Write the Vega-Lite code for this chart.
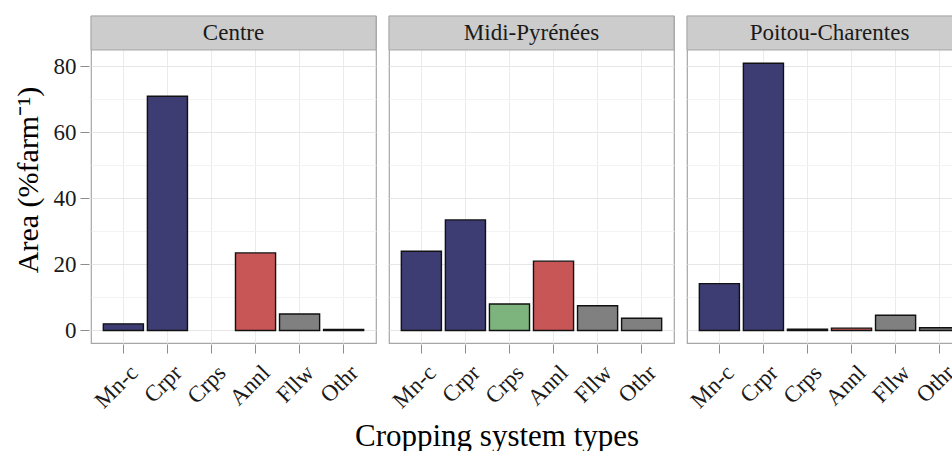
{
  "$schema": "https://vega.github.io/schema/vega-lite/v6.json",
  "padding": {"left": 13, "top": 14, "right": 0, "bottom": 0},
  "background": "white",
  "title": {
    "text": "Cropping system types",
    "orient": "bottom",
    "anchor": "middle",
    "dx": 4,
    "offset": 10,
    "font": "Liberation Serif",
    "fontSize": 31,
    "fontWeight": "normal",
    "color": "#000000"
  },
  "data": {"values": [
    {"region": "Centre", "type": "Mn-c", "area": 2.0},
    {"region": "Centre", "type": "Crpr", "area": 71.0},
    {"region": "Centre", "type": "Annl", "area": 23.5},
    {"region": "Centre", "type": "Fllw", "area": 5.0},
    {"region": "Centre", "type": "Othr", "area": 0.3},
    {"region": "Midi-Pyrénées", "type": "Mn-c", "area": 24.0},
    {"region": "Midi-Pyrénées", "type": "Crpr", "area": 33.5},
    {"region": "Midi-Pyrénées", "type": "Crps", "area": 8.0},
    {"region": "Midi-Pyrénées", "type": "Annl", "area": 21.0},
    {"region": "Midi-Pyrénées", "type": "Fllw", "area": 7.5},
    {"region": "Midi-Pyrénées", "type": "Othr", "area": 3.7},
    {"region": "Poitou-Charentes", "type": "Mn-c", "area": 14.2},
    {"region": "Poitou-Charentes", "type": "Crpr", "area": 81.0},
    {"region": "Poitou-Charentes", "type": "Crps", "area": 0.4},
    {"region": "Poitou-Charentes", "type": "Annl", "area": 0.7},
    {"region": "Poitou-Charentes", "type": "Fllw", "area": 4.6},
    {"region": "Poitou-Charentes", "type": "Othr", "area": 0.8}
  ]},
  "facet": {
    "column": {
      "field": "region",
      "type": "nominal",
      "sort": ["Centre", "Midi-Pyrénées", "Poitou-Charentes"],
      "header": {"labels": false, "title": null, "labelPadding": 0, "titlePadding": 0}
    }
  },
  "spacing": 9,
  "spec": {
    "width": 285,
    "height": 327,
    "layer": [
      {
        "mark": {"type": "bar", "stroke": "#111111", "strokeWidth": 1.4},
        "encoding": {
          "x": {
            "field": "type",
            "type": "nominal",
            "scale": {"domain": ["Mn-c", "Crpr", "Crps", "Annl", "Fllw", "Othr"], "paddingInner": 0.09, "paddingOuter": 0.28},
            "axis": {
              "title": null,
              "labelAngle": -45,
              "labelFontSize": 23,
              "labelFont": "Liberation Serif",
              "labelColor": "#1a1a1a",
              "labelPadding": 8,
              "labelOffset": 3,
              "tickSize": 9,
              "tickColor": "#8c8c8c",
              "domain": false,
              "grid": true,
              "gridColor": "#ebebeb",
              "bandPosition": 0.5
            }
          },
          "y": {
            "field": "area",
            "type": "quantitative",
            "scale": {"domain": [-3.8, 95.3], "nice": false, "zero": false},
            "axis": {
              "title": "Area (%farm⁻¹)",
              "values": [0, 10, 20, 30, 40, 50, 60, 70, 80],
              "labelExpr": "datum.value % 20 === 0 ? datum.label : ''",
              "labelFontSize": 23,
              "labelFont": "Liberation Serif",
              "labelColor": "#1a1a1a",
              "labelPadding": 4,
              "tickSize": 9,
              "tickColor": "#8c8c8c",
              "tickOpacity": {"condition": {"test": "datum.value % 20 === 0", "value": 1}, "value": 0},
              "gridColor": {"condition": {"test": "datum.value % 20 === 0", "value": "#e6e6e6"}, "value": "#f3f3f3"},
              "domain": false,
              "titleFontSize": 30,
              "titleFont": "Liberation Serif",
              "titleFontWeight": "normal",
              "titleColor": "#000000",
              "titlePadding": 10
            }
          },
          "color": {
            "field": "type",
            "type": "nominal",
            "scale": {
              "domain": ["Mn-c", "Crpr", "Crps", "Annl", "Fllw", "Othr"],
              "range": ["#3d3c73", "#3d3c73", "#7db47e", "#c85656", "#808080", "#808080"]
            },
            "legend": null
          }
        }
      },
      {
        "transform": [{"filter": "datum.type === 'Fllw'"}],
        "mark": {"type": "rect", "fill": "#cccccc", "stroke": "#a6a6a6", "strokeWidth": 1},
        "encoding": {
          "y": {"datum": 85},
          "y2": {"datum": 95.3}
        }
      },
      {
        "transform": [{"filter": "datum.type === 'Fllw'"}],
        "mark": {"type": "text", "font": "Liberation Serif", "fontSize": 23, "color": "#1a1a1a", "baseline": "middle", "align": "center"},
        "encoding": {
          "text": {"field": "region"},
          "y": {"datum": 90.1}
        }
      }
    ]
  },
  "config": {
    "view": {"stroke": "#a6a6a6", "strokeWidth": 1.2},
    "font": "Liberation Serif"
  }
}
